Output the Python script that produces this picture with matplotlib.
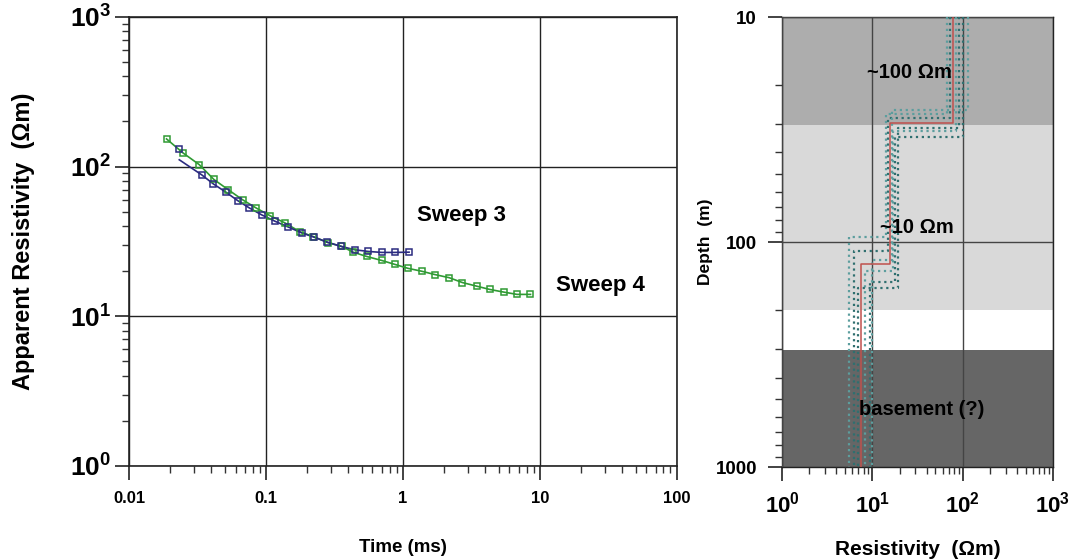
import numpy as np
import matplotlib
matplotlib.use("Agg")
import matplotlib.pyplot as plt
from matplotlib.ticker import LogLocator, NullFormatter

plt.rcParams['font.family'] = ['Liberation Sans', 'DejaVu Sans']
plt.rcParams['mathtext.fontset'] = 'custom'
plt.rcParams['mathtext.rm'] = 'Liberation Sans'
plt.rcParams['mathtext.bf'] = 'Liberation Sans:bold'

# ---- Sweep 4 (green) apparent resistivity sounding
sweep4_time = [0.0188, 0.0249, 0.0326, 0.0417, 0.0531, 0.0676, 0.0845, 0.107, 0.138,
               0.177, 0.221, 0.285, 0.357, 0.434, 0.543, 0.700, 0.875, 1.09, 1.37,
               1.71, 2.18, 2.72, 3.45, 4.32, 5.46, 6.82, 8.55]
sweep4_rho = [153, 123, 103, 82, 70, 60, 53, 47, 42,
              36.7, 34.1, 31.0, 29.3, 26.8, 25.1, 23.6, 22.2, 20.9, 20.0,
              19.0, 18.1, 16.8, 15.9, 15.1, 14.5, 14.0, 14.0]

# ---- Sweep 3 (blue) data and model response
sweep3_time = [0.0233, 0.034, 0.0413, 0.0511, 0.0621, 0.0755, 0.093, 0.116, 0.146,
               0.182, 0.224, 0.280, 0.353, 0.447, 0.559, 0.700, 0.875, 1.11]
sweep3_rho = [131, 88, 76.6, 67.4, 59.3, 53.0, 47.6, 43.2, 39.4,
              36.1, 33.8, 31.3, 29.3, 27.8, 27.1, 26.7, 26.7, 26.8]
sweep3_fit_rho = [111, 88, 76.6, 67.4, 59.3, 53.0, 47.6, 43.2, 39.4,
                  36.1, 33.8, 31.3, 29.3, 27.8, 27.1, 26.7, 26.7, 26.8]

# ---- layered inversion models: resistivities (top, middle, bottom) and interface depths
best_rho = [78, 15.7, 7.5]
best_depths = [29.6, 125]
alt_rho = [[67, 14, 5.5], [72, 15, 6.2], [85, 17, 8.3],
           [100, 18, 9.5], [115, 16.5, 10.0], [90, 19, 7.0]]
alt_depths = [[27, 95], [28, 110], [32, 135], [34, 150], [26, 120], [31, 160]]

# ---- geological bands (top depth, bottom depth, colour)
band_tops = [10, 30.2, 200, 302]
band_bottoms = [30.2, 200, 302, 1000]
band_colors = ['#adadad', '#d9d9d9', '#ffffff', '#666666']
band_labels = ['~100 \u03a9m', '~10 \u03a9m', '', 'basement (?)']
band_label_pos = [(26, 17.7), (31, 86), None, (35, 555)]

depth_top, depth_bottom = 10, 1000


def step_profile(rho, depths):
    xs, ys = [], []
    edges = [depth_top] + list(depths) + [depth_bottom]
    for i, r in enumerate(rho):
        xs += [r, r]
        ys += [edges[i], edges[i + 1]]
    return xs, ys


fig = plt.figure(figsize=(10.72, 5.6), dpi=100)

# ================= left: apparent resistivity vs time
ax = fig.add_axes([0.1203, 0.1679, 0.511, 0.802])
ax.set_xscale('log')
ax.set_yscale('log')
ax.set_xlim(0.01, 100)
ax.set_ylim(1, 1000)

ax.plot(sweep4_time, sweep4_rho, color='#2f9a33', lw=1.2, zorder=3)
ax.plot(sweep4_time, sweep4_rho, ls='none', marker='s', ms=5, mfc='none',
        mec='#2f9a33', mew=1.1, zorder=4)
ax.plot(sweep3_time, sweep3_fit_rho, color='#2b2b80', lw=1.2, zorder=3)
ax.plot(sweep3_time, sweep3_rho, ls='none', marker='s', ms=5, mfc='none',
        mec='#2b2b80', mew=1.1, zorder=4)

ax.text(2.7, 47, 'Sweep 3', fontsize=16, fontweight='bold', ha='center', va='center')
ax.text(27.5, 16, 'Sweep 4', fontsize=16, fontweight='bold', ha='center', va='center')

ax.grid(True, which='major', color='#222222', lw=1.0)
ax.set_xticks([0.01, 0.1, 1, 10, 100])
ax.set_xticklabels(['0.01', '0.1', '1', '10', '100'], fontsize=12, fontweight='bold')
ax.set_yticks([1, 10, 100, 1000])
ax.set_yticklabels([r'$\mathbf{10^{0}}$', r'$\mathbf{10^{1}}$', r'$\mathbf{10^{2}}$',
                    r'$\mathbf{10^{3}}$'], fontsize=19)
ax.xaxis.set_minor_locator(LogLocator(base=10, subs=np.arange(2, 10)))
ax.yaxis.set_minor_locator(LogLocator(base=10, subs=np.arange(2, 10)))
ax.xaxis.set_minor_formatter(NullFormatter())
ax.yaxis.set_minor_formatter(NullFormatter())
ax.tick_params(which='major', direction='out', length=10, width=1.2, pad=8, colors='#222222',
               labelcolor='black')
ax.tick_params(axis='y', which='major', pad=3)
ax.tick_params(which='minor', direction='out', length=5, width=1.0, colors='#333333')
for s in ax.spines.values():
    s.set_color('#222222')
    s.set_linewidth(1.2)
ax.set_xlabel('Time (ms)', fontsize=13.5, fontweight='bold', labelpad=24)
ax.set_ylabel('Apparent Resistivity  (\u03a9m)', fontsize=17, fontweight='bold', labelpad=25)

# ================= right: layered resistivity models vs depth
ax2 = fig.add_axes([0.7295, 0.166, 0.2528, 0.8036])
ax2.set_xscale('log')
ax2.set_yscale('log')
ax2.set_xlim(1, 1000)
ax2.set_ylim(depth_bottom, depth_top)

for top, bot, col in zip(band_tops, band_bottoms, band_colors):
    ax2.axhspan(top, bot, color=col, lw=0, zorder=0)

ax2.grid(True, which='major', color='#444444', lw=1.0, zorder=1)
ax2.set_axisbelow(False)

for k, (rho, dep) in enumerate(zip(alt_rho, alt_depths)):
    xs, ys = step_profile(rho, dep)
    ax2.plot(xs, ys, ls=':', lw=1.6, color='#5c9e9e' if k % 2 == 0 else '#2f6f6f', zorder=3)
xs, ys = step_profile(best_rho, best_depths)
ax2.plot(xs, ys, color='#c0504d', lw=1.1, zorder=4)

for lab, pos in zip(band_labels, band_label_pos):
    if pos is None:
        continue
    ax2.text(pos[0], pos[1], lab, fontsize=14.5, fontweight='bold', ha='center',
             va='center', zorder=5)

ax2.set_xticks([1, 10, 100, 1000])
ax2.set_xticklabels([r'$\mathbf{10^{0}}$', r'$\mathbf{10^{1}}$', r'$\mathbf{10^{2}}$',
                     r'$\mathbf{10^{3}}$'], fontsize=16)
ax2.set_yticks([10, 100, 1000])
ax2.set_yticklabels(['10', '100', '1000'], fontsize=13.5, fontweight='bold')
ax2.xaxis.set_minor_locator(LogLocator(base=10, subs=np.arange(2, 10)))
ax2.yaxis.set_minor_locator(LogLocator(base=10, subs=np.arange(2, 10)))
ax2.xaxis.set_minor_formatter(NullFormatter())
ax2.yaxis.set_minor_formatter(NullFormatter())
ax2.tick_params(which='major', direction='out', length=10, width=1.2, pad=8, colors='#222222',
                labelcolor='black')
ax2.tick_params(which='minor', direction='out', length=5, width=1.0, colors='#333333')
for s in ax2.spines.values():
    s.set_color('#222222')
    s.set_linewidth(1.0)
ax2.set_xlabel('Resistivity  (\u03a9m)', fontsize=15, fontweight='bold', labelpad=16)
ax2.set_ylabel('Depth  (m)', fontsize=12.5, fontweight='bold', labelpad=2)

fig.savefig('out.png', dpi=100)
